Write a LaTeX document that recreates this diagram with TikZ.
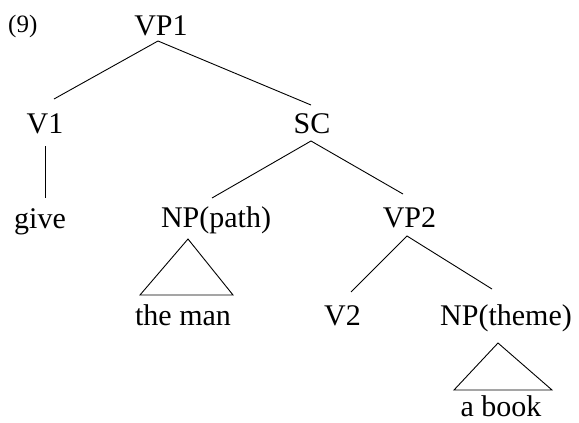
\documentclass[tikz,border=0pt]{standalone}
\usepackage{fontspec}
\setmainfont{Liberation Serif}
\begin{document}
\begin{tikzpicture}[x=1pt,y=1pt,
  lbl/.style={anchor=base,inner sep=0pt,font=\fontsize{30}{34}\selectfont},
  num/.style={anchor=base west,inner sep=0pt,font=\fontsize{25}{28}\selectfont},
  edge/.style={line width=0.9pt},
  tri/.style={line width=0.9pt,line join=miter}]
\useasboundingbox (0,0) rectangle (579,-423);
\node[num] (ex) at (8,-32) {(9)};
\node[lbl] (VP1) at (161,-35) {VP1};
\node[lbl] (V1) at (45,-133) {V1};
\node[lbl] (SC) at (312,-133) {SC};
\node[lbl] (give) at (40,-228) {give};
\node[lbl] (NPp) at (216,-227) {NP(path)};
\node[lbl] (VP2) at (409.5,-227) {VP2};
\node[lbl] (man) at (183,-325) {the man};
\node[lbl] (V2) at (342.5,-325) {V2};
\node[lbl] (NPt) at (506,-325) {NP(theme)};
\node[lbl] (book) at (501,-416) {a book};
% branches
\draw[edge] ([shift={(9,34)}]V1.base) -- ([shift={(-3,-6)}]VP1.base) -- ([shift={(-1,28)}]SC.base);
\draw[edge] ([shift={(0,-13)}]V1.base) -- ([shift={(5,30)}]give.base);
\draw[edge] ([shift={(-4,29)}]NPp.base) -- ([shift={(-1,-8)}]SC.base) -- ([shift={(-6.5,33)}]VP2.base);
\draw[edge] ([shift={(8.5,33)}]V2.base) -- ([shift={(-2.5,-9)}]VP2.base) -- ([shift={(-14,36)}]NPt.base);
% triangles
\draw[tri] ([shift={(-28,-12)}]NPp.base) -- ([shift={(-43,30)}]man.base) -- ([shift={(50,30)}]man.base) -- cycle;
\draw[tri] ([shift={(-8,-18)}]NPt.base) -- ([shift={(-47,26)}]book.base) -- ([shift={(51,26)}]book.base) -- cycle;
\end{tikzpicture}
\end{document}
